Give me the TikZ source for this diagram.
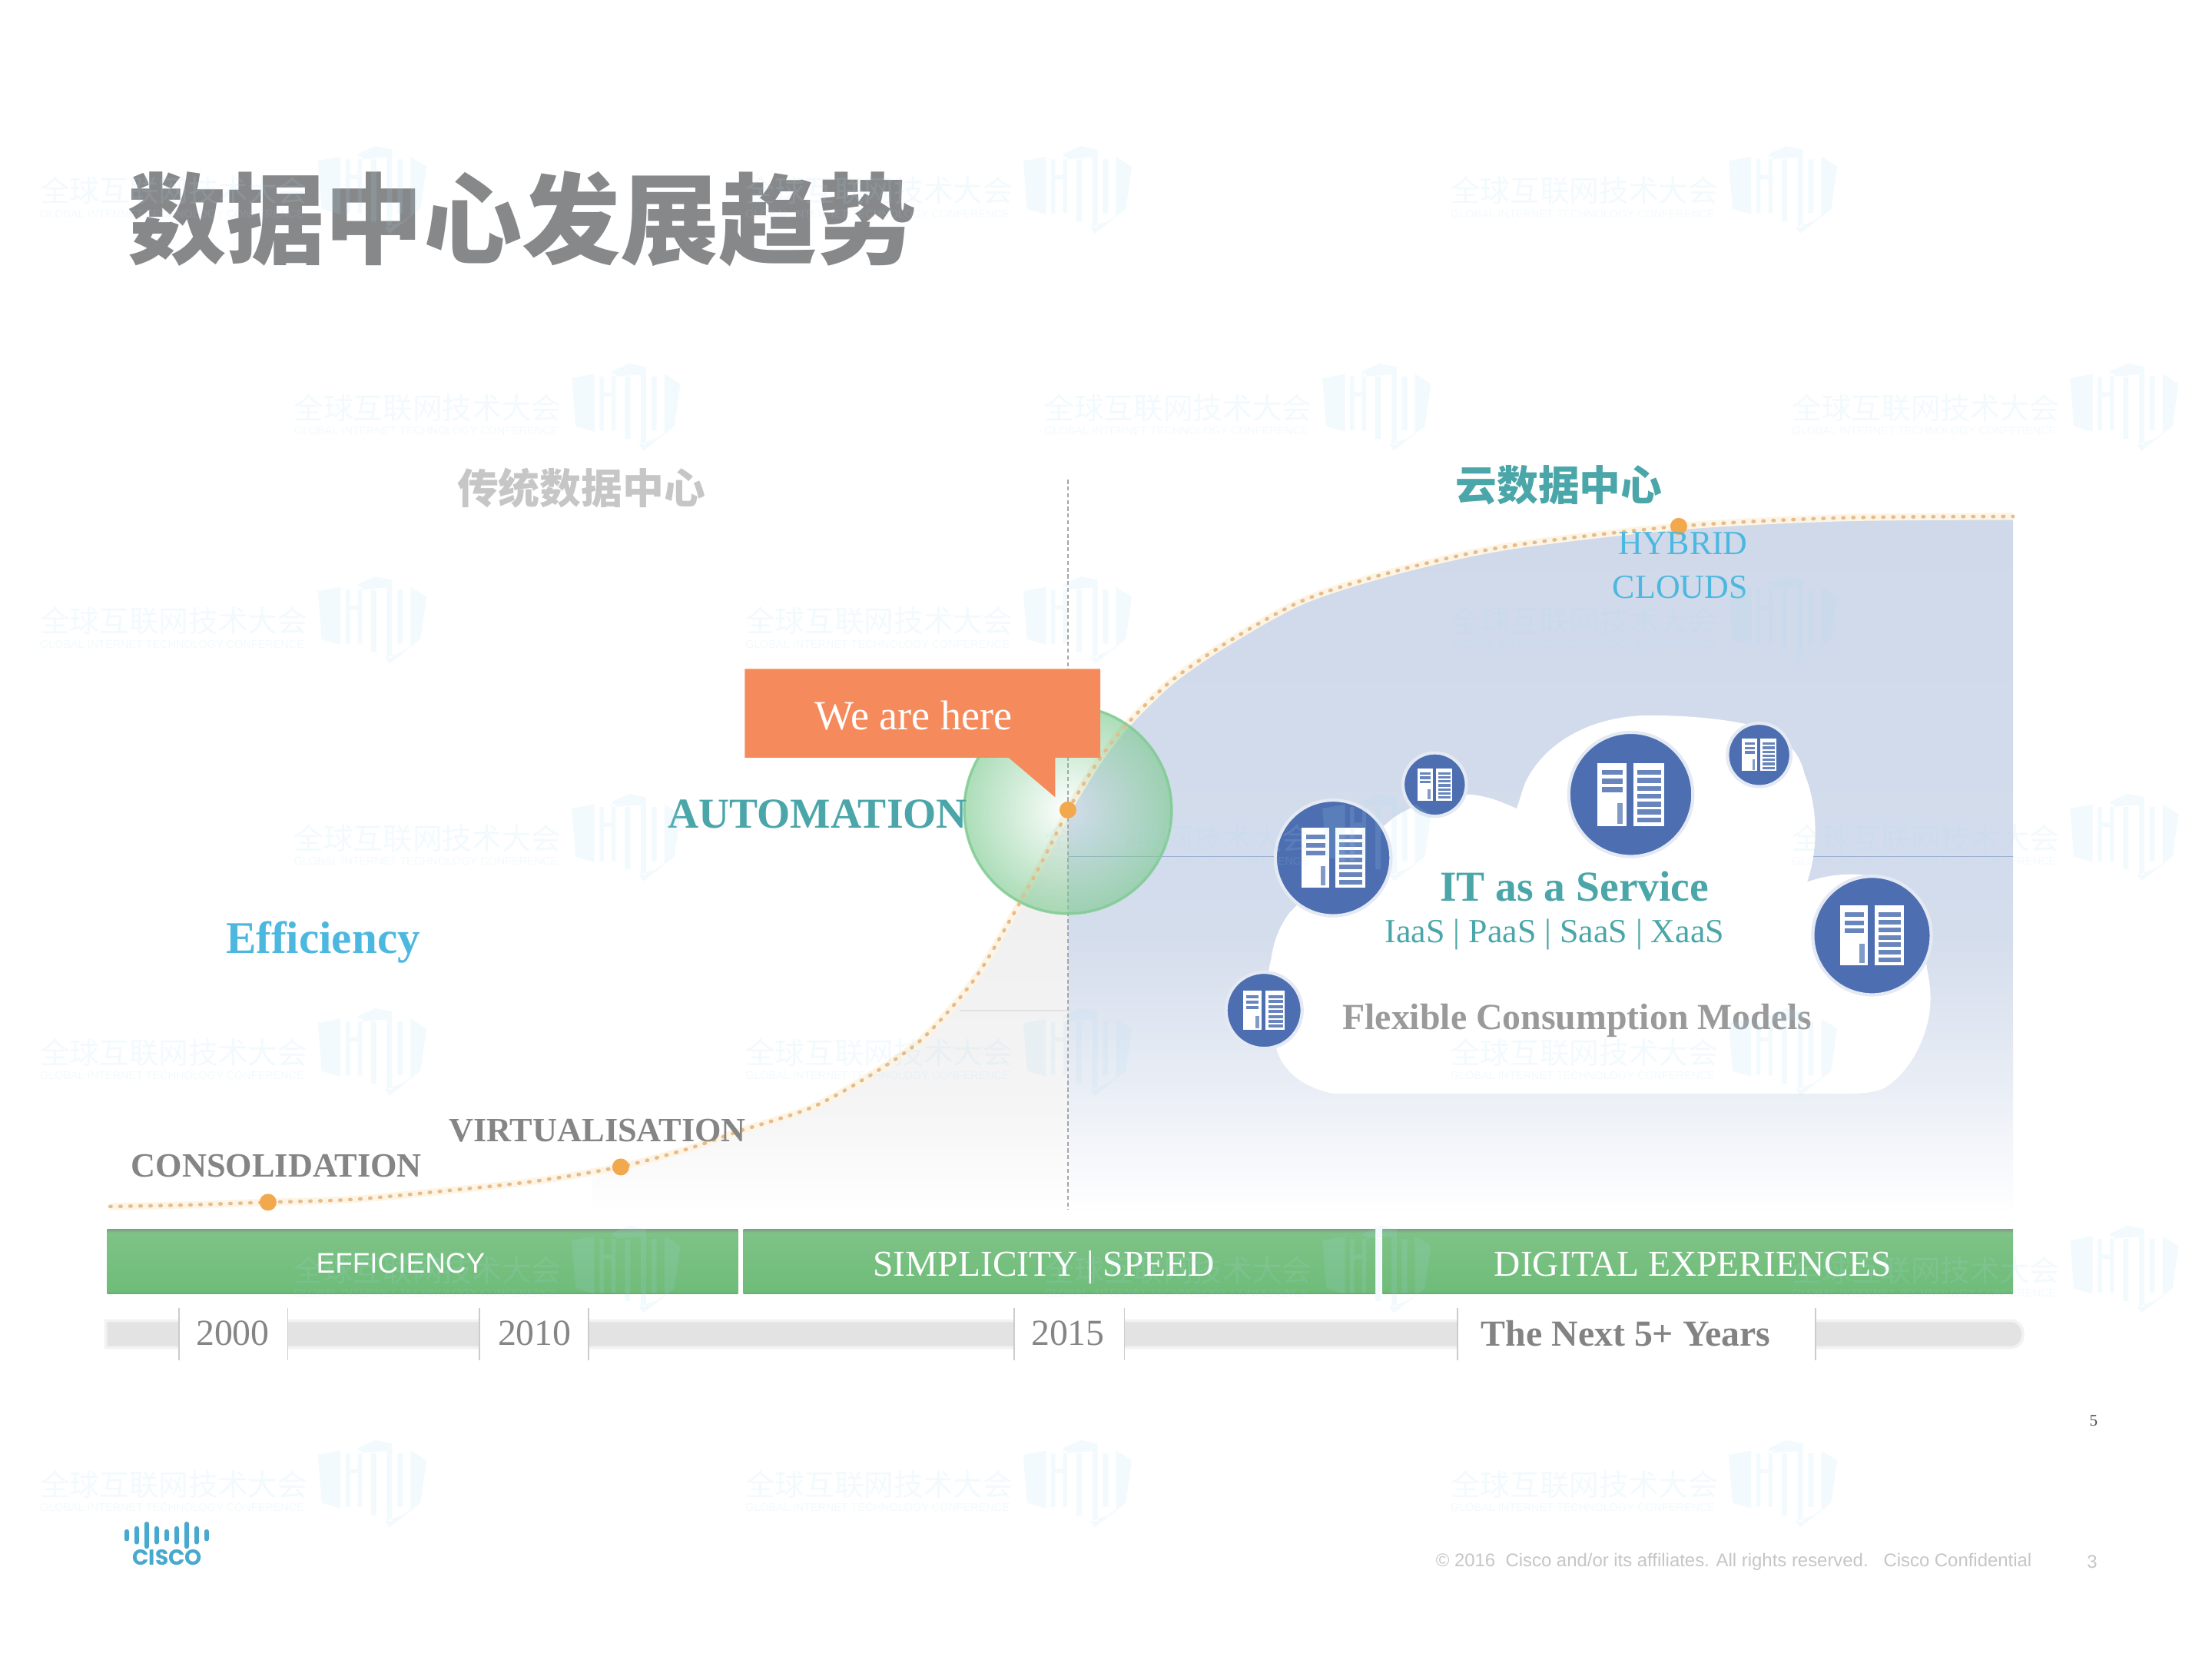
\documentclass[tikz,border=0pt]{standalone}
\usepackage{fontspec}
\usetikzlibrary{fadings}
\setmainfont{Liberation Serif}
\newfontfamily\cjk{Noto Sans CJK SC}
\newfontfamily\lsans{Liberation Sans}
\newfontfamily\pop{Poppins}
\definecolor{titlegray}{HTML}{87888A}
\definecolor{lightgray}{HTML}{C6C6C6}
\definecolor{txtgray}{HTML}{858585}
\definecolor{softgray}{HTML}{9A9A9A}
\definecolor{tealc}{HTML}{4BA6A9}
\definecolor{skyc}{HTML}{4DB8DF}
\definecolor{barg}{HTML}{6FBC79}
\definecolor{bard}{HTML}{7F9F84}
\definecolor{orangec}{HTML}{F58B5C}
\definecolor{dotc}{HTML}{F2A94E}
\definecolor{dotline}{HTML}{E4BC8E}
\definecolor{halo}{HTML}{FDF4E4}
\definecolor{iconb}{HTML}{4D6FB1}
\definecolor{wmc}{HTML}{A9DDF4}
\definecolor{bl}{HTML}{CFD9EA}
\definecolor{bubg}{HTML}{7FCB92}
\pgfdeclareverticalshading{bluefade}{100bp}{color(0bp)=(white); color(25bp)=(white); color(34bp)=(bl!45!white); color(45bp)=(bl!90!white); color(75bp)=(bl); color(100bp)=(bl)}
\pgfdeclareverticalshading{grayfade}{100bp}{color(0bp)=(white); color(25bp)=(white); color(38bp)=(black!4); color(75bp)=(black!7); color(100bp)=(black!7)}
\pgfdeclareverticalshading{barfade}{100bp}{color(0bp)=(barg); color(25bp)=(barg!90!black); color(27bp)=(barg); color(72bp)=(barg!90!white); color(75bp)=(bard); color(100bp)=(bard)}
\tikzfading[name=bubblefade,inner color=transparent!100,outer color=transparent!35]
\tikzset{
  x=0.01836cm,y=-0.01836cm,
  txt/.style={inner sep=0pt,outer sep=0pt,anchor=center,align=center},
  wmtext/.style={inner sep=0pt,anchor=west,text=wmc,text opacity=0.14},
  bigc/.style={fill=iconb,draw=white!85!iconb,line width=1.2pt},
  dotcurve/.style={dotline,line width=1.3pt,line cap=round,dash pattern=on 0.4pt off 3.3pt},
  halocurve/.style={halo,line width=2.6pt},
}
% server glyph: centre, radius
\newcommand{\srv}[3]{%
  \begin{scope}[shift={(#1,#2)},x=#3*0.01836cm,y=-#3*0.01836cm]
    \fill[white] (-.55,-.52) rectangle (-.07,.52);
    \fill[white] (.04,-.52) rectangle (.55,.52);
    \foreach \yy in {-.40,-.26,-.12}{\fill[iconb!85!white] (-.47,\yy) rectangle (-.14,{\yy+.08});}
    \fill[iconb!70!white] (-.22,.14) rectangle (-.13,.48);
    \foreach \yy in {-.40,-.27,-.14,-.01,.12,.25,.38}{\fill[iconb!85!white] (.11,\yy) rectangle (.50,{\yy+.08});}
  \end{scope}}
% watermark: text left, vertical centre
\newcommand{\wm}[2]{%
  \begin{scope}[shift={(#1,#2)}]
    \node[wmtext] at (0,2) {\fontsize{11pt}{13pt}\cjk 全球互联网技术大会};
    \node[wmtext] at (0,18.5) {\fontsize{4.1pt}{5pt}\lsans GLOBAL INTERNET TECHNOLOGY CONFERENCE};
    \fill[wmc,opacity=0.14]
      (197.4,-19) -- (213.4,-22) -- (213.4,19) -- (200,15) -- cycle
      (217,-20) rectangle (220,18) (225.6,-22) rectangle (228.4,18) (220,-9) rectangle (225.6,-6)
      (226,-24) -- (238,-29.4) -- (250,-27) -- (250,-22) -- (226,-20) -- cycle
      (235,-20) rectangle (238.8,24) (246.3,-22) rectangle (250,28)
      (253.8,-20) rectangle (257.5,18)
      (263,-22) -- (274.3,-15) -- (270,15) -- (248,32.5) -- (245,28) -- (257,24) -- (263,20) -- cycle;
  \end{scope}}
\def\lowcurve{(78,855) (130,854) (190,852) (250,850) (315,844) (380,837) (439,827) (485,815) (526,801) (575,785) (617,762) (654,736) (690,695) (716,652) (738,612) (757,574)}
\def\upcurve{(757,574) (778,540) (799,513) (831,482) (872,454) (925,425) (992,404) (1070,387) (1190,373) (1305,367) (1427,366)}
\begin{document}
\begin{tikzpicture}
\useasboundingbox (0,0) rectangle (1568,1176);
\fill[white] (0,0) rectangle (1568,1176);

% areas under the curve
\shade[shading=grayfade] (420,860) -- (420,834) -- (439,827) -- (485,815) -- (526,801) -- (575,785) -- (617,762) -- (654,736) -- (690,695) -- (716,652) -- (738,612) -- (757,574) -- (757,860) -- cycle;
\shade[shading=bluefade] plot[smooth] coordinates {\upcurve} -- (1427,860) -- (757,860) -- cycle;

% guide lines
\draw[black!35,line width=0.5pt,dash pattern=on 1.5pt off 1pt] (757,340) -- (757,857);
\draw[iconb!55!white,line width=0.5pt] (757,607) -- (1427,607);
\draw[black!12,line width=0.5pt] (680,716) -- (757,716);

% cloud
\fill[white] (945,775) .. controls (920,770) and (906,755) .. (904,739)
  .. controls (897,715) and (897,695) .. (901,680)
  .. controls (903,665) and (908,655) .. (914,647)
  .. controls (940,620) and (965,600) .. (987,580)
  .. controls (1005,568) and (1030,560) .. (1049,564)
  .. controls (1060,566) and (1068,570) .. (1075,573)
  .. controls (1078,565) and (1079,560) .. (1081,555)
  .. controls (1095,525) and (1130,507) .. (1169,507)
  .. controls (1200,507) and (1230,510) .. (1253,517)
  .. controls (1268,525) and (1276,535) .. (1279,548)
  .. controls (1290,575) and (1288,605) .. (1281,625)
  .. controls (1295,620) and (1312,618) .. (1326,621)
  .. controls (1350,640) and (1364,665) .. (1366,687)
  .. controls (1369,700) and (1369,712) .. (1367,722)
  .. controls (1362,745) and (1350,762) .. (1336,771)
  .. controls (1325,776) and (1310,775) .. (1295,775) -- cycle;

% curve halo below the bubble
\draw[halocurve] plot[smooth] coordinates {\lowcurve};
\draw[halocurve] plot[smooth] coordinates {\upcurve};

% bubble
\fill[bubg,path fading=bubblefade] (757,574) circle (74);
\draw[bubg,opacity=0.75,line width=1pt] (757,574) circle (73.5);

% curve
\draw[dotcurve] plot[smooth] coordinates {\lowcurve};
\draw[dotcurve] plot[smooth] coordinates {\upcurve};
\fill[dotc] (190,852) circle (6);
\fill[dotc] (440,827) circle (6);
\fill[dotc] (757,574) circle (6);
\fill[dotc] (1190,373) circle (6);

% callout
\fill[orangec] (528,474) -- (780,474) -- (780,537) -- (748,537) -- (748,565) -- (715,537) -- (528,537) -- cycle;
\node[txt,text=white] (here) at (647.5,507) {\fontsize{15.4pt}{18pt}\selectfont We are here};

% icons
\filldraw[bigc] (945,608) circle (41);
\filldraw[bigc] (1156,563) circle (44);
\filldraw[bigc] (1327,663) circle (42);
\filldraw[bigc] (1017,556) circle (22.5);
\filldraw[bigc] (1247,535) circle (22.5);
\filldraw[bigc] (896,716) circle (27);
\srv{945}{608}{41}
\srv{1156}{563}{43}
\srv{1327}{663}{41}
\srv{1017}{556}{22}
\srv{1247}{535}{22}
\srv{896}{716}{27}

% titles
\node[txt,text=titlegray] (title) at (370,155) {\fontsize{36.5pt}{40pt}\cjk\bfseries 数据中心发展趋势};
\node[txt,text=lightgray] (trad) at (412,346) {\fontsize{15.3pt}{18pt}\cjk\bfseries 传统数据中心};
\node[txt,text=tealc] (cloudt) at (1105,344) {\fontsize{15.3pt}{18pt}\cjk\bfseries 云数据中心};

% labels
\node[txt,text=skyc] (hy) at (1193,385) {\fontsize{12.5pt}{15pt}\selectfont HYBRID};
\node[txt,text=skyc] (cl) at (1191,416) {\fontsize{12.5pt}{15pt}\selectfont CLOUDS};
\node[txt,text=tealc] (auto) at (579.5,577) {\fontsize{15.8pt}{18pt}\selectfont\bfseries AUTOMATION};
\node[txt,text=skyc] (eff) at (229,668) {\fontsize{16.8pt}{20pt}\selectfont\bfseries Efficiency};
\node[txt,text=txtgray] (cons) at (196,826) {\fontsize{12.6pt}{15pt}\selectfont\bfseries CONSOLIDATION};
\node[txt,text=txtgray] (virt) at (423.5,801.5) {\fontsize{12.6pt}{15pt}\selectfont\bfseries VIRTUALISATION};
\node[txt,text=tealc] (itas) at (1116,628) {\fontsize{15.8pt}{18pt}\selectfont\bfseries IT as a Service};
\node[txt,text=tealc] (iaas) at (1102,662) {\fontsize{12.5pt}{15pt}\selectfont IaaS | PaaS | SaaS | XaaS};
\node[txt,text=softgray] (flex) at (1118,723) {\fontsize{13.6pt}{16pt}\selectfont\bfseries Flexible Consumption Models};

% green bars
\shade[shading=barfade] (76,871) rectangle (523,917);
\shade[shading=barfade] (527,871) rectangle (975,917);
\shade[shading=barfade] (980,871) rectangle (1427,917);
\node[txt,text=white] (b1) at (284,895) {\fontsize{10.5pt}{13pt}\lsans EFFICIENCY};
\node[txt,text=white] (b2) at (740,898) {\fontsize{13.5pt}{16pt}\selectfont SIMPLICITY | SPEED};
\node[txt,text=white] (b3) at (1200,896) {\fontsize{13.5pt}{16pt}\selectfont DIGITAL EXPERIENCES};

% timeline
\fill[black!5] (74,935) -- (1425,935) .. controls (1432,935) and (1435,940) .. (1435,945.5) .. controls (1435,951) and (1432,956) .. (1425,956) -- (74,956) -- cycle;
\fill[black!11] (76,937) -- (1425,937) .. controls (1430,937) and (1433,941) .. (1433,945.5) .. controls (1433,950) and (1430,954) .. (1425,954) -- (76,954) -- cycle;
\foreach \xa/\xb in {127/204,340/417,719/797,1033/1287}{
  \fill[white] (\xa,926) rectangle (\xb,964);
  \draw[black!20,line width=0.5pt] (\xa,927) -- (\xa,964);
  \draw[black!20,line width=0.5pt] (\xb,927) -- (\xb,964);
}
\node[txt,text=txtgray] (y1) at (165,945) {\fontsize{13.6pt}{16pt}\selectfont 2000};
\node[txt,text=txtgray] (y2) at (379,945) {\fontsize{13.6pt}{16pt}\selectfont 2010};
\node[txt,text=txtgray] (y3) at (757,945) {\fontsize{13.6pt}{16pt}\selectfont 2015};
\node[txt,text=softgray!85!black] (y4) at (1152.5,945) {\fontsize{13.6pt}{16pt}\selectfont\bfseries The Next 5+ Years};

% footer
\node[txt,text=black!70] (p5) at (1484,1007) {\fontsize{6pt}{7pt}\selectfont 5};
\node[txt,text=lightgray] (copy) at (1229,1107) {\fontsize{6.8pt}{8pt}\lsans © 2016\ \ Cisco and/or its affiliates. All rights reserved.\ \ \ Cisco Confidential};
\node[txt,text=lightgray] (p3) at (1483,1107) {\fontsize{6.8pt}{8pt}\lsans 3};

% cisco logo
\foreach \xx/\hh in {89.9/2.8,96.9/5,104/8.2,111.1/5,118.2/2.8,125.3/5,132.4/8.2,139.4/5,146.5/2.8}{
  \draw[skyc!92!black,line width=1.5pt,line cap=round] (\xx,{1088-\hh}) -- (\xx,{1088+\hh});
}
\node[txt,text=skyc!92!black] (cisco) at (118.5,1103.5) {\fontsize{8pt}{9pt}\pop\bfseries CISCO};

% watermarks
\foreach \wy in {133,438,744,1050}{\wm{28}{\wy}\wm{528}{\wy}\wm{1028}{\wy}}
\foreach \wy in {287,592,898}{\wm{208}{\wy}\wm{740}{\wy}\wm{1270}{\wy}}
\end{tikzpicture}
\end{document}
